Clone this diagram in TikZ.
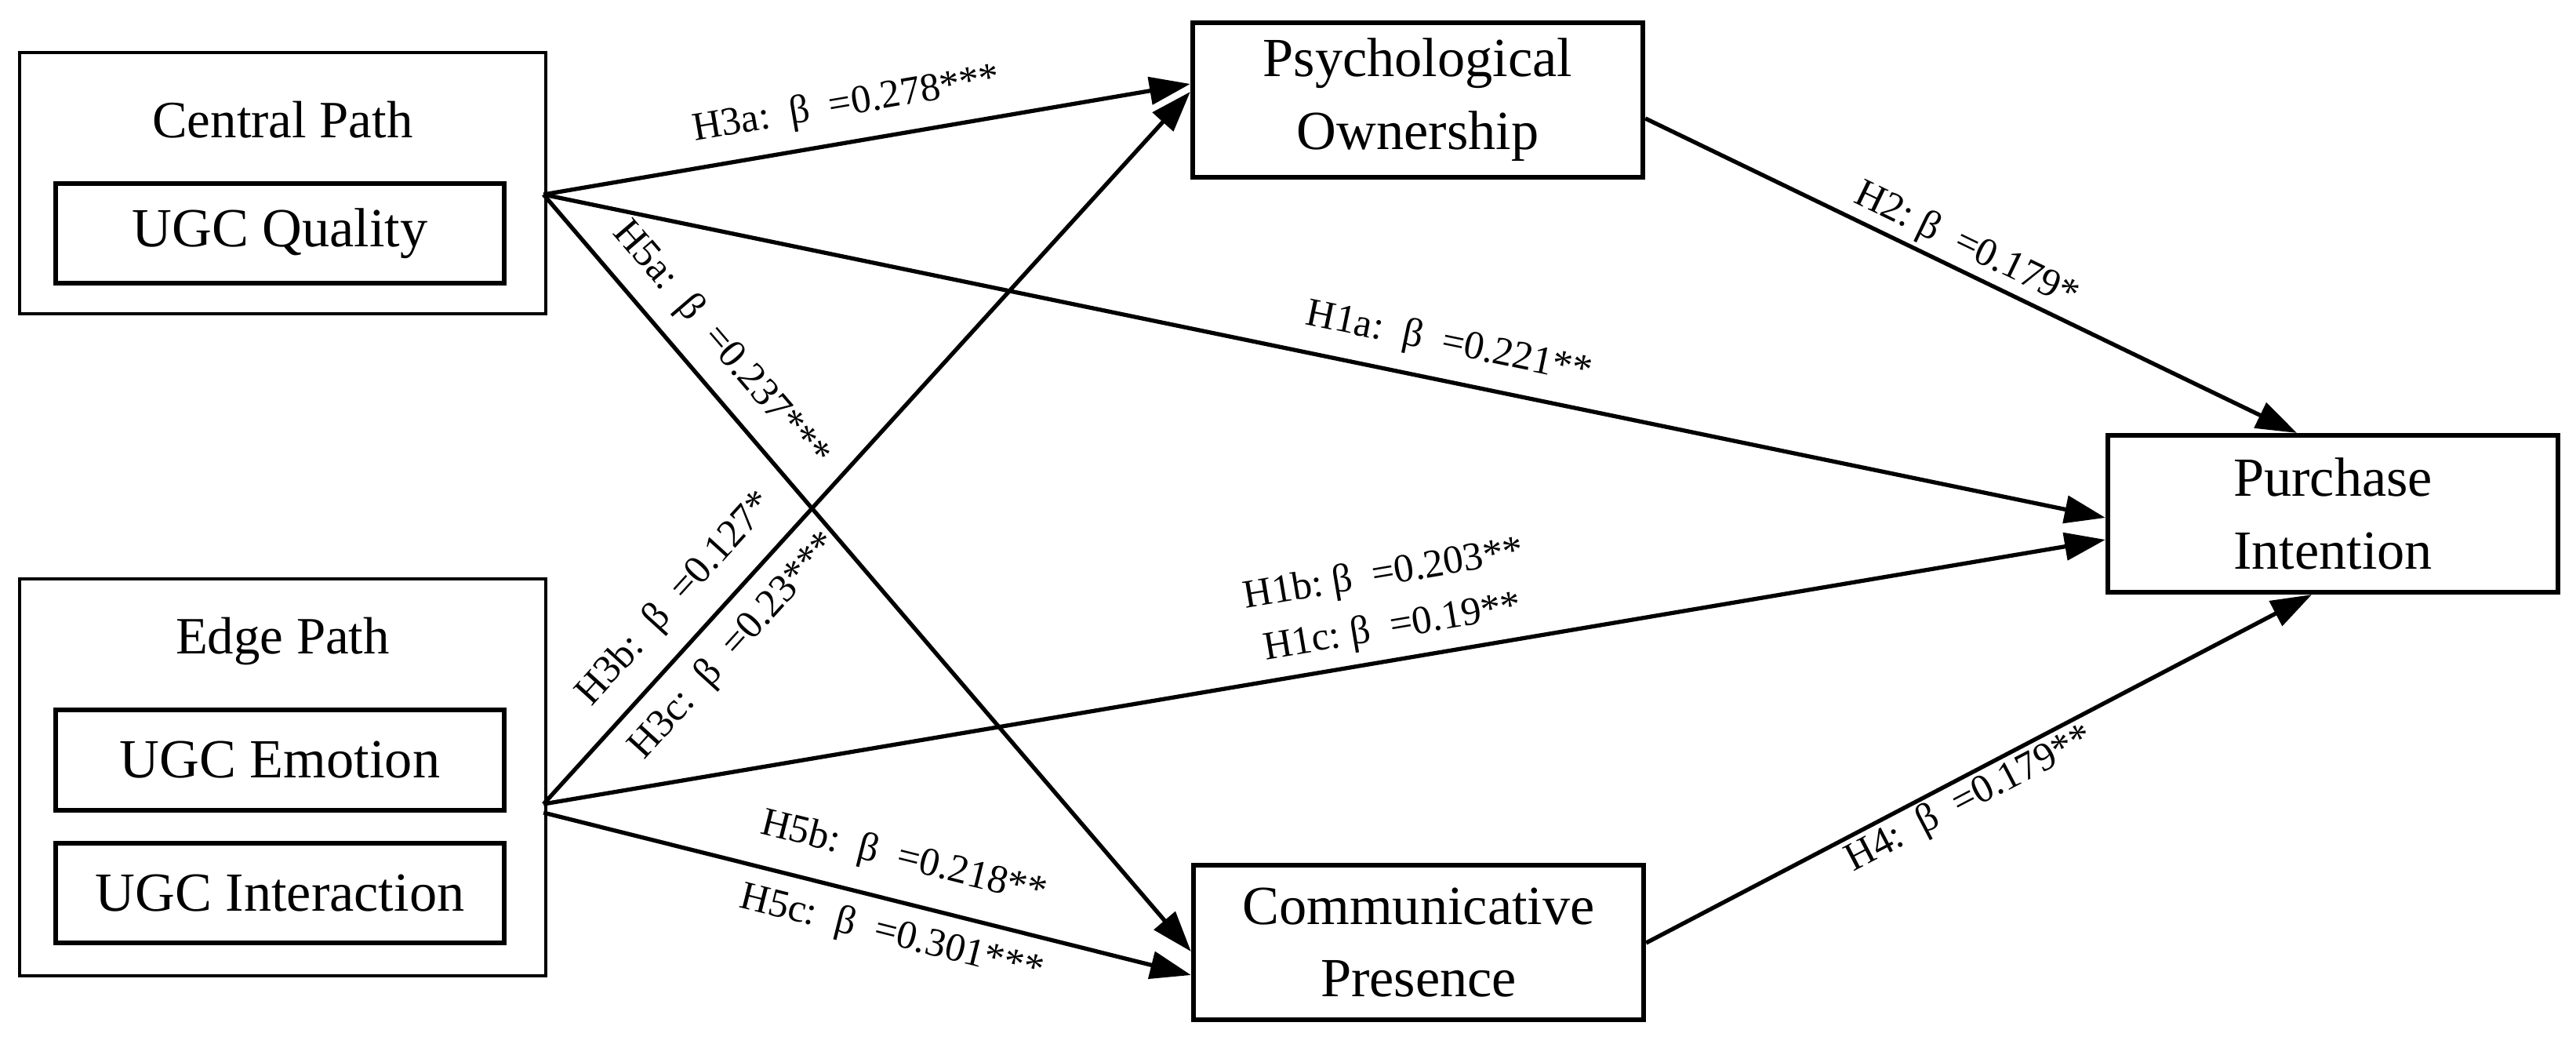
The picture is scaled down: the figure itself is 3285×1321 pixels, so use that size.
\documentclass[tikz,border=0pt]{standalone}
\usepackage{fontspec}
\setmainfont{Liberation Serif}
\usetikzlibrary{arrows.meta,calc}
\begin{document}
\begin{tikzpicture}[x=0.01cm,y=-0.01cm,
  grp/.style={draw,line width=1.1pt,minimum width=6.71cm,inner sep=0pt},
  sub/.style={draw,line width=1.7pt,minimum width=5.72cm,minimum height=1.27cm,inner sep=0pt,font=\fontsize{20}{24}\selectfont},
  var/.style={draw,line width=1.7pt,minimum width=5.74cm,minimum height=1.97cm,inner sep=0pt,align=center,font=\fontsize{20}{26.4}\selectfont},
  ttl/.style={inner sep=0pt,font=\fontsize{19}{23}\selectfont},
  arr/.style={line width=1.5pt,-{Triangle[length=0.52cm,width=0.35cm]}},
  lab/.style={sloped,inner sep=0pt,font=\fontsize{14.5}{19.5}\selectfont}]
\useasboundingbox (0,0) rectangle (3285,1321);
% left groups
\node[grp,minimum height=3.33cm] (cp) at (360.5,233.5) {};
\node[ttl] (cpt) at (360.5,153) {Central Path};
\node[sub] (q) at (357,297.5) {UGC Quality};
\node[grp,minimum height=5.06cm] (ep) at (360.5,991) {};
\node[ttl] (ept) at (360.5,818) {Edge Path};
\node[sub] (em) at (357,969) {UGC Emotion};
\node[sub] (in) at (357,1138.5) {UGC Interaction};
% constructs
\node[var] (po) at (1808,127.5) {Psychological\\Ownership};
\node[var] (cm) at (1809,1201.5) {Communicative\\Presence};
\node[var,minimum height=2cm] (pi) at (2975,655) {Purchase\\Intention};
% connection points
\coordinate (cA) at ($(cp.east)+(-5,14.5)$);
\coordinate (eA) at ($(ep.east)+(-5,34)$);
\coordinate (eB) at ($(ep.east)+(-5,45)$);
\coordinate (poA) at ($(po.west)+(0,-20.5)$);
\coordinate (poB) at ($(po.west)+(0,-10.5)$);
\coordinate (poC) at ($(po.east)+(0,23.5)$);
\coordinate (piA) at ($(pi.west)+(0,5)$);
\coordinate (piB) at ($(pi.west)+(0,33)$);
\coordinate (piT) at ($(pi.north)+(-46,0)$);
\coordinate (piD) at ($(pi.south)+(-27,0)$);
\coordinate (cmA) at ($(cm.west)+(0,11.5)$);
\coordinate (cmB) at ($(cm.west)+(0,41.5)$);
\coordinate (cmC) at ($(cm.east)+(0,0.5)$);
% paths
\draw[arr] (cA) -- (poA) node[lab,pos=0.478,above=6pt] {H3a:\ \ β\ \ =0.278***};
\draw[arr] (cA) -- (piA) node[lab,pos=0.575,above=6pt] {H1a:\ \ β\ \ =0.221**};
\draw[arr] (cA) -- (cmA) node[lab,pos=0.23,above=6pt] {H5a:\ \ β\ \ =0.237***};
\draw[arr] (eA) -- (poB) node[lab,pos=0.25,above=7pt] {H3b:\ \ β\ \ =0.127*}
                         node[lab,pos=0.255,below=5.5pt] {H3c:\ \ β\ \ =0.23***};
\draw[arr] (eA) -- (piB) node[lab,pos=0.547,above=4pt,align=center] {H1b:\ β\ \ =0.203**\\H1c:\ β\ \ =0.19**};
\draw[arr] (eB) -- (cmB) node[lab,pos=0.54,above=8pt] {H5b:\ \ β\ \ =0.218**}
                         node[lab,pos=0.55,below=5pt] {H5c:\ \ β\ \ =0.301***};
\draw[arr] (poC) -- (piT) node[lab,pos=0.476,above=1.5pt] {H2:\ β\ \ =0.179*};
\draw[arr] (cmC) -- (piD) node[lab,pos=0.47,below=1pt] {H4:\ \ β\ \ =0.179**};
\end{tikzpicture}
\end{document}
